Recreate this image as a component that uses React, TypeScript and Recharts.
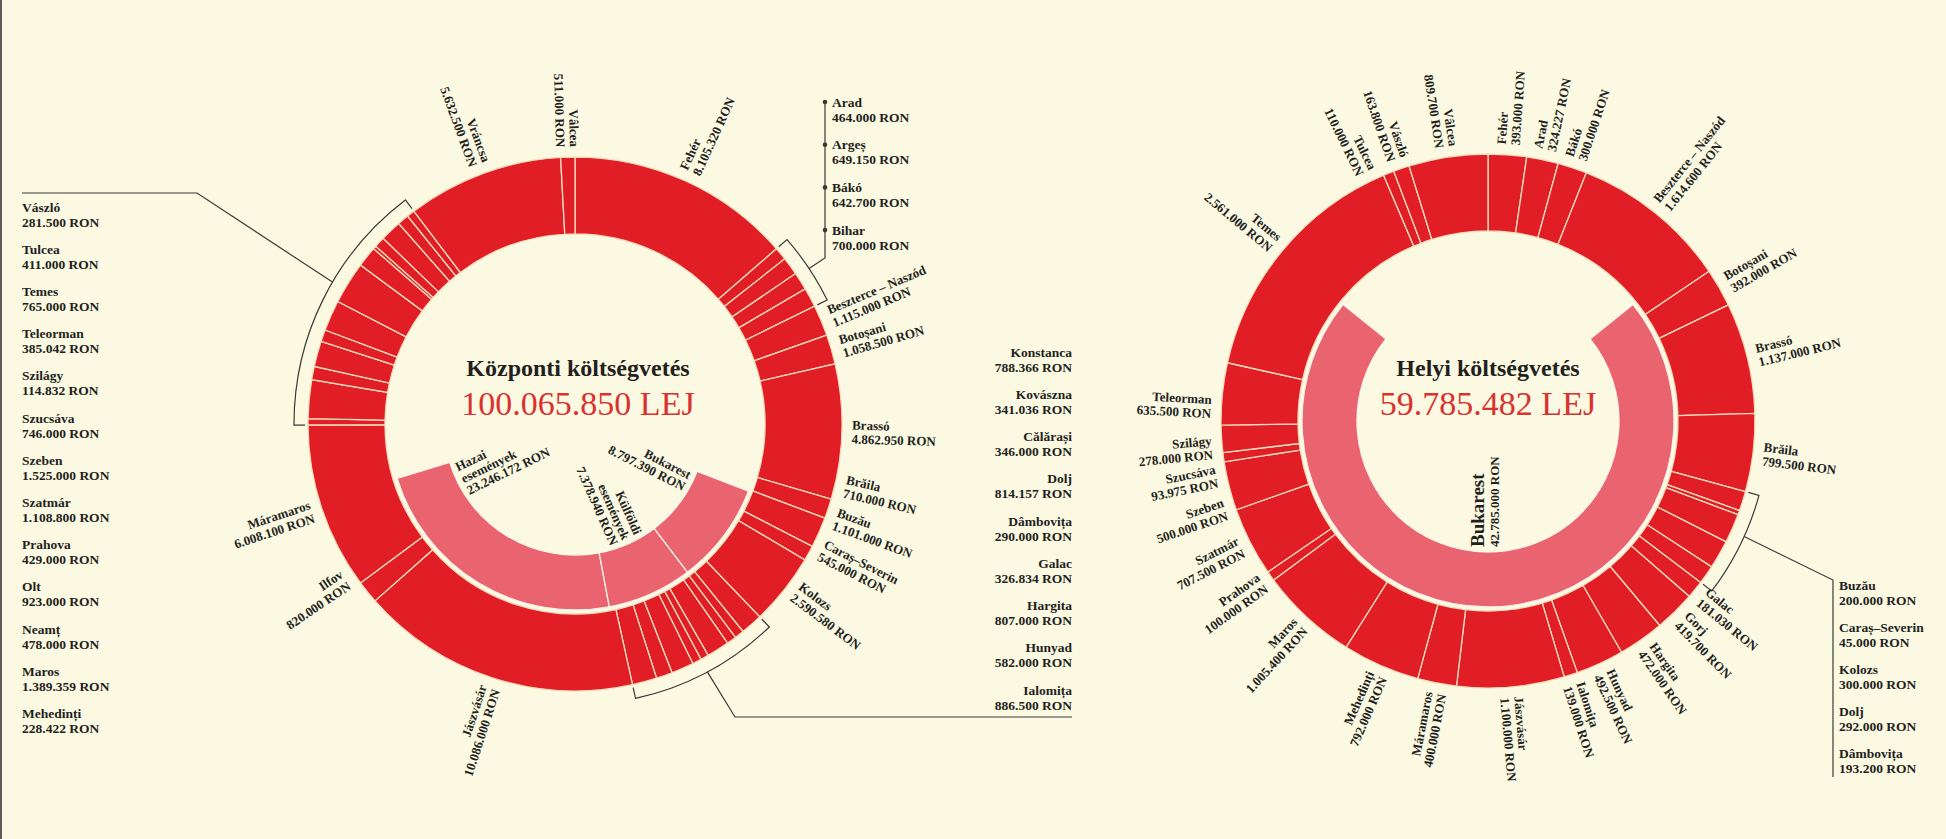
import { PieChart, Pie, Cell } from 'recharts';

// Központi költségvetés (left ring), clockwise from 12 o'clock
const centralCounties = [
  'Fehér', 'Arad', 'Argeș', 'Bákó', 'Bihar', 'Beszterce – Naszód', 'Botoșani', 'Brassó', 'Brăila', 'Buzău',
  'Caraș–Severin', 'Kolozs', 'Konstanca', 'Kovászna', 'Călărași', 'Dolj', 'Dâmbovița', 'Galac', 'Hargita', 'Hunyad',
  'Ialomița', 'Jászvásár', 'Ilfov', 'Máramaros', 'Mehedinți', 'Maros', 'Neamț', 'Olt', 'Prahova', 'Szatmár',
  'Szeben', 'Szucsáva', 'Szilágy', 'Teleorman', 'Temes', 'Tulcea', 'Vászló', 'Vráncsa', 'Vâlcea',
];
const centralAmounts = [
  8105320, 464000, 649150, 642700, 700000, 1115000, 1058500, 4862950, 710000, 1101000,
  545000, 2590580, 788366, 341036, 346000, 814157, 290000, 326834, 807000, 582000,
  886500, 10086000, 820000, 6008100, 228422, 1389359, 478000, 923000, 429000, 1108800,
  1525000, 746000, 114832, 385042, 765000, 411000, 281500, 5632500, 511000,
];
const centralEvents = ['Hazai események', 'Külföldi események', 'Bukarest'];
const centralEventAmounts = [23246172, 7378940, 8797390];
const centralTotal = 100065850;

// Helyi költségvetés (right ring)
const localCounties = [
  'Fehér', 'Arad', 'Bákó', 'Beszterce – Naszód', 'Botoșani', 'Brassó', 'Brăila', 'Buzău', 'Caraș–Severin', 'Kolozs',
  'Dolj', 'Dâmbovița', 'Galac', 'Gorj', 'Hargita', 'Hunyad', 'Ialomița', 'Jászvásár', 'Máramaros', 'Mehedinți',
  'Maros', 'Prahova', 'Szatmár', 'Szeben', 'Szucsáva', 'Szilágy', 'Teleorman', 'Temes', 'Tulcea', 'Vászló', 'Vâlcea',
];
const localAmounts = [
  393000, 324227, 300000, 1614600, 392000, 1137000, 799500, 200000, 45000, 300000,
  292000, 193200, 181030, 419700, 472000, 492500, 139000, 1100000, 400000, 792000,
  1005400, 100000, 707500, 500000, 93975, 278000, 635500, 2561000, 110000, 163800, 809700,
];
const localCapital = ['Bukarest'];
const localCapitalAmounts = [42785000];
const localTotal = 59785482;

// side lists
const centralListWest = ['Vászló', 'Tulcea', 'Temes', 'Teleorman', 'Szilágy', 'Szucsáva', 'Szeben', 'Szatmár', 'Prahova', 'Olt', 'Neamț', 'Maros', 'Mehedinți'];
const centralListNorth = ['Arad', 'Argeș', 'Bákó', 'Bihar'];
const centralListEast = ['Konstanca', 'Kovászna', 'Călărași', 'Dolj', 'Dâmbovița', 'Galac', 'Hargita', 'Hunyad', 'Ialomița'];
const localListEast = ['Buzău', 'Caraș–Severin', 'Kolozs', 'Dolj', 'Dâmbovița'];

const W = 1946;
const H = 839;
const BG = '#FBF9E2';
const RED = '#E11D25';
const PINK = '#E9646E';
const SEP = '#F6DEBF';
const INK = '#231F1D';
const LINE = '#3b3937';
const FONT = '"Liberation Serif", "DejaVu Serif", serif';

const LEFT = { cx: 575, cy: 424 };
const RIGHT = { cx: 1488, cy: 421 };
const R_OUT = 267;
const R_IN = 190;
const R2_OUT = 186;
const R2_IN = 131;

// label angle tweaks where the original spreads crowded labels apart
const centralNudge: Record<string, number> = { 'Brăila': -13, 'Buzău': -20, 'Caraș–Severin': -27, Kolozs: -37, Ilfov: 214 };
const localNudge: Record<string, number> = { Tulcea: 116, Teleorman: 177, 'Szilágy': 185.5, 'Szucsáva': 191.5, Szeben: 198.5 };

const RAD = Math.PI / 180;
const polar = (cx: number, cy: number, r: number, a: number) => [cx + r * Math.cos(-a * RAD), cy + r * Math.sin(-a * RAD)];
const norm = (a: number) => ((((a + 180) % 360) + 360) % 360) - 180;
const fmt = (n: number) => `${String(n).replace(/\B(?=(\d{3})+(?!\d))/g, '.')} RON`;
const sum = (a: number[]) => a.reduce((s, v) => s + v, 0);

// start angle of item idx in a clockwise ring starting at 90°
const angleAt = (amounts: number[], idx: number) => 90 - (360 * sum(amounts.slice(0, idx))) / sum(amounts);

const labelText = { fontFamily: FONT, fontWeight: 700, fontSize: 13, fill: INK } as const;

function outerLabel(names: string[], hidden: string[], nudge: Record<string, number>) {
  return (p: any) => {
    const name = names[p.index];
    if (!name || hidden.includes(name)) return null;
    const n = norm(nudge[name] ?? p.midAngle);
    const right = n > -90 && n <= 90;
    const [x, y] = polar(p.cx, p.cy, p.outerRadius + 10, n);
    const rot = right ? -n : 180 - n;
    const lines = [name, fmt(p.value)];
    return (
      <g key={`ol-${p.index}`} transform={`translate(${x},${y}) rotate(${rot})`}>
        {lines.map((t, i) => (
          <text key={i} x={0} y={i * 14 - 2.5} textAnchor={right ? 'start' : 'end'} {...labelText}>{t}</text>
        ))}
      </g>
    );
  };
}

function innerLabel(names: string[], nudge: Record<number, number>, big = false) {
  return (p: any) => {
    const name = names[p.index];
    if (!name) return null;
    const n = norm(nudge[p.index] ?? p.midAngle);
    const right = n > -90 && n <= 90;
    const [x, y] = polar(p.cx, p.cy, p.innerRadius - 5, n);
    const rot = right ? -n : 180 - n;
    const anchor = right ? 'end' : 'start';
    if (big) {
      return (
        <g key={`il-${p.index}`} transform={`translate(${x},${y}) rotate(${rot})`}>
          <text x={0} y={-4} textAnchor={anchor} {...labelText} fontSize={19}>{name}</text>
          <text x={0} y={11} textAnchor={anchor} {...labelText}>{fmt(p.value)}</text>
        </g>
      );
    }
    const lines = [...name.split(' '), fmt(p.value)];
    return (
      <g key={`il-${p.index}`} transform={`translate(${x},${y}) rotate(${rot})`}>
        {lines.map((t, i) => (
          <text key={i} x={0} y={(i - (lines.length - 1) / 2) * 13 + 4.5} textAnchor={anchor} {...labelText}>{t}</text>
        ))}
      </g>
    );
  };
}

function bracketPath(cx: number, cy: number, a0: number, a1: number) {
  const r0 = R_OUT + 3;
  const rb = R_OUT + 14;
  const [x0, y0] = polar(cx, cy, r0, a0);
  const [x1, y1] = polar(cx, cy, rb, a0);
  const [x2, y2] = polar(cx, cy, rb, a1);
  const [x3, y3] = polar(cx, cy, r0, a1);
  const sweep = a1 < a0 ? 1 : 0;
  return `M${x0},${y0} L${x1},${y1} A${rb},${rb} 0 0 ${sweep} ${x2},${y2} L${x3},${y3}`;
}

function groupAngles(names: string[], amounts: number[], first: string, last: string) {
  const a0 = angleAt(amounts, names.indexOf(first));
  const a1 = angleAt(amounts, names.indexOf(last) + 1);
  return [a0, a1, (a0 + a1) / 2];
}

function ListBlock({ items, names, amounts, x, y0, step, anchor }: any) {
  return (
    <g>
      {items.map((nm: string, i: number) => {
        const y = y0 + i * step;
        return (
          <g key={nm}>
            <text x={x} y={y + 4.5} textAnchor={anchor} {...labelText} fontSize={13.5}>{nm}</text>
            <text x={x} y={y + 19.5} textAnchor={anchor} {...labelText} fontSize={13.5}>{fmt(amounts[names.indexOf(nm)])}</text>
          </g>
        );
      })}
    </g>
  );
}

export default function App() {
  const centralData = centralCounties.map((name, i) => ({ name, value: centralAmounts[i] }));
  const centralInner = [
    ...centralEvents.map((name, i) => ({ name, value: centralEventAmounts[i] })),
    { name: '', value: centralTotal - sum(centralEventAmounts) },
  ];
  const localData = localCounties.map((name, i) => ({ name, value: localAmounts[i] }));
  const localInner = [
    ...localCapital.map((name, i) => ({ name, value: localCapitalAmounts[i] })),
    { name: '', value: localTotal - sum(localCapitalAmounts) },
  ];
  const localStart = 270 - (sum(localCapitalAmounts) / localTotal) * 180;

  const centralHidden = [...centralListWest, ...centralListNorth, ...centralListEast];

  const gWest = groupAngles(centralCounties, centralAmounts, 'Mehedinți', 'Vászló');
  const gNorth = groupAngles(centralCounties, centralAmounts, 'Arad', 'Bihar');
  const gEast = groupAngles(centralCounties, centralAmounts, 'Konstanca', 'Ialomița');
  const gLocal = groupAngles(localCounties, localAmounts, 'Buzău', 'Dâmbovița');
  const rb = R_OUT + 14;
  const pW = polar(LEFT.cx, LEFT.cy, rb, gWest[2] - 4);
  const pN = polar(LEFT.cx, LEFT.cy, rb, gNorth[2]);
  const pE = polar(LEFT.cx, LEFT.cy, rb, gEast[2]);
  const pL = polar(RIGHT.cx, RIGHT.cy, rb, gLocal[2] + 2);

  return (
    <div style={{ position: 'absolute', left: 0, top: 0, width: W, height: H, background: BG }}>
      <PieChart width={W} height={H} margin={{ top: 0, right: 0, bottom: 0, left: 0 }}>
        <Pie
          data={centralData}
          dataKey="value"
          nameKey="name"
          cx={LEFT.cx}
          cy={LEFT.cy}
          innerRadius={R_IN}
          outerRadius={R_OUT}
          startAngle={90}
          endAngle={-270}
          isAnimationActive={false}
          labelLine={false}
          label={outerLabel(centralCounties, centralHidden, centralNudge)}
        >
          {centralData.map((d) => (
            <Cell key={d.name} fill={RED} stroke={SEP} strokeWidth={1.3} />
          ))}
        </Pie>
        <Pie
          data={centralInner}
          dataKey="value"
          nameKey="name"
          cx={LEFT.cx}
          cy={LEFT.cy}
          innerRadius={R2_IN}
          outerRadius={R2_OUT}
          startAngle={197}
          endAngle={557}
          isAnimationActive={false}
          labelLine={false}
          label={innerLabel(centralEvents, { 0: 206, 1: 294, 2: 333 })}
        >
          {centralInner.map((d, i) => (
            <Cell key={i} fill={d.name ? PINK : 'none'} stroke={d.name ? '#FBF3EA' : 'none'} strokeWidth={1.3} />
          ))}
        </Pie>
        <Pie
          data={localData}
          dataKey="value"
          nameKey="name"
          cx={RIGHT.cx}
          cy={RIGHT.cy}
          innerRadius={R_IN}
          outerRadius={R_OUT}
          startAngle={90}
          endAngle={-270}
          isAnimationActive={false}
          labelLine={false}
          label={outerLabel(localCounties, localListEast, localNudge)}
        >
          {localData.map((d) => (
            <Cell key={d.name} fill={RED} stroke={SEP} strokeWidth={1.3} />
          ))}
        </Pie>
        <Pie
          data={localInner}
          dataKey="value"
          nameKey="name"
          cx={RIGHT.cx}
          cy={RIGHT.cy}
          innerRadius={R2_IN}
          outerRadius={R2_OUT}
          startAngle={localStart}
          endAngle={localStart + 360}
          isAnimationActive={false}
          labelLine={false}
          label={innerLabel(localCapital, {}, true)}
        >
          {localInner.map((d, i) => (
            <Cell key={i} fill={d.name ? PINK : 'none'} stroke={d.name ? '#FBF3EA' : 'none'} strokeWidth={1.3} />
          ))}
        </Pie>
      </PieChart>

      <svg width={W} height={H} style={{ position: 'absolute', left: 0, top: 0, pointerEvents: 'none' }}>
        <rect x={0} y={0} width={2} height={H} fill="#5d5b58" />

        {/* titles */}
        <text x={LEFT.cx + 3} y={376} textAnchor="middle" fontFamily={FONT} fontWeight={700} fontSize={24} fill={INK}>Központi költségvetés</text>
        <text x={LEFT.cx + 3} y={415} textAnchor="middle" fontFamily={FONT} fontSize={34} fill="#D9322F">100.065.850 LEJ</text>
        <text x={RIGHT.cx} y={376} textAnchor="middle" fontFamily={FONT} fontWeight={700} fontSize={24} fill={INK}>Helyi költségvetés</text>
        <text x={RIGHT.cx} y={415} textAnchor="middle" fontFamily={FONT} fontSize={34} fill="#D9322F">59.785.482 LEJ</text>

        {/* brackets and leaders */}
        <g fill="none" stroke={LINE} strokeWidth={1.2}>
          <path d={bracketPath(LEFT.cx, LEFT.cy, gWest[0], gWest[1])} />
          <path d={bracketPath(LEFT.cx, LEFT.cy, gNorth[0], gNorth[1])} />
          <path d={bracketPath(LEFT.cx, LEFT.cy, gEast[0], gEast[1])} />
          <path d={bracketPath(RIGHT.cx, RIGHT.cy, gLocal[0], gLocal[1])} />
          <polyline points={`${pW[0]},${pW[1]} 197,193 22,193`} />
          <polyline points={`${pN[0]},${pN[1]} 825,258 825,100`} />
          <polyline points={`${pE[0]},${pE[1]} 735,717 1072,717`} />
          <polyline points={`${pL[0]},${pL[1]} 1833,580 1833,777`} />
        </g>
        {centralListNorth.map((nm, i) => (
          <circle key={nm} cx={825} cy={102 + i * 42.7} r={2.3} fill={LINE} />
        ))}

        <ListBlock items={centralListWest} names={centralCounties} amounts={centralAmounts} x={22} y0={207} step={42.2} anchor="start" />
        <ListBlock items={centralListNorth} names={centralCounties} amounts={centralAmounts} x={832} y0={102} step={42.7} anchor="start" />
        <ListBlock items={centralListEast} names={centralCounties} amounts={centralAmounts} x={1072} y0={352} step={42.25} anchor="end" />
        <ListBlock items={localListEast} names={localCounties} amounts={localAmounts} x={1839} y0={585} step={42} anchor="start" />
      </svg>
    </div>
  );
}
